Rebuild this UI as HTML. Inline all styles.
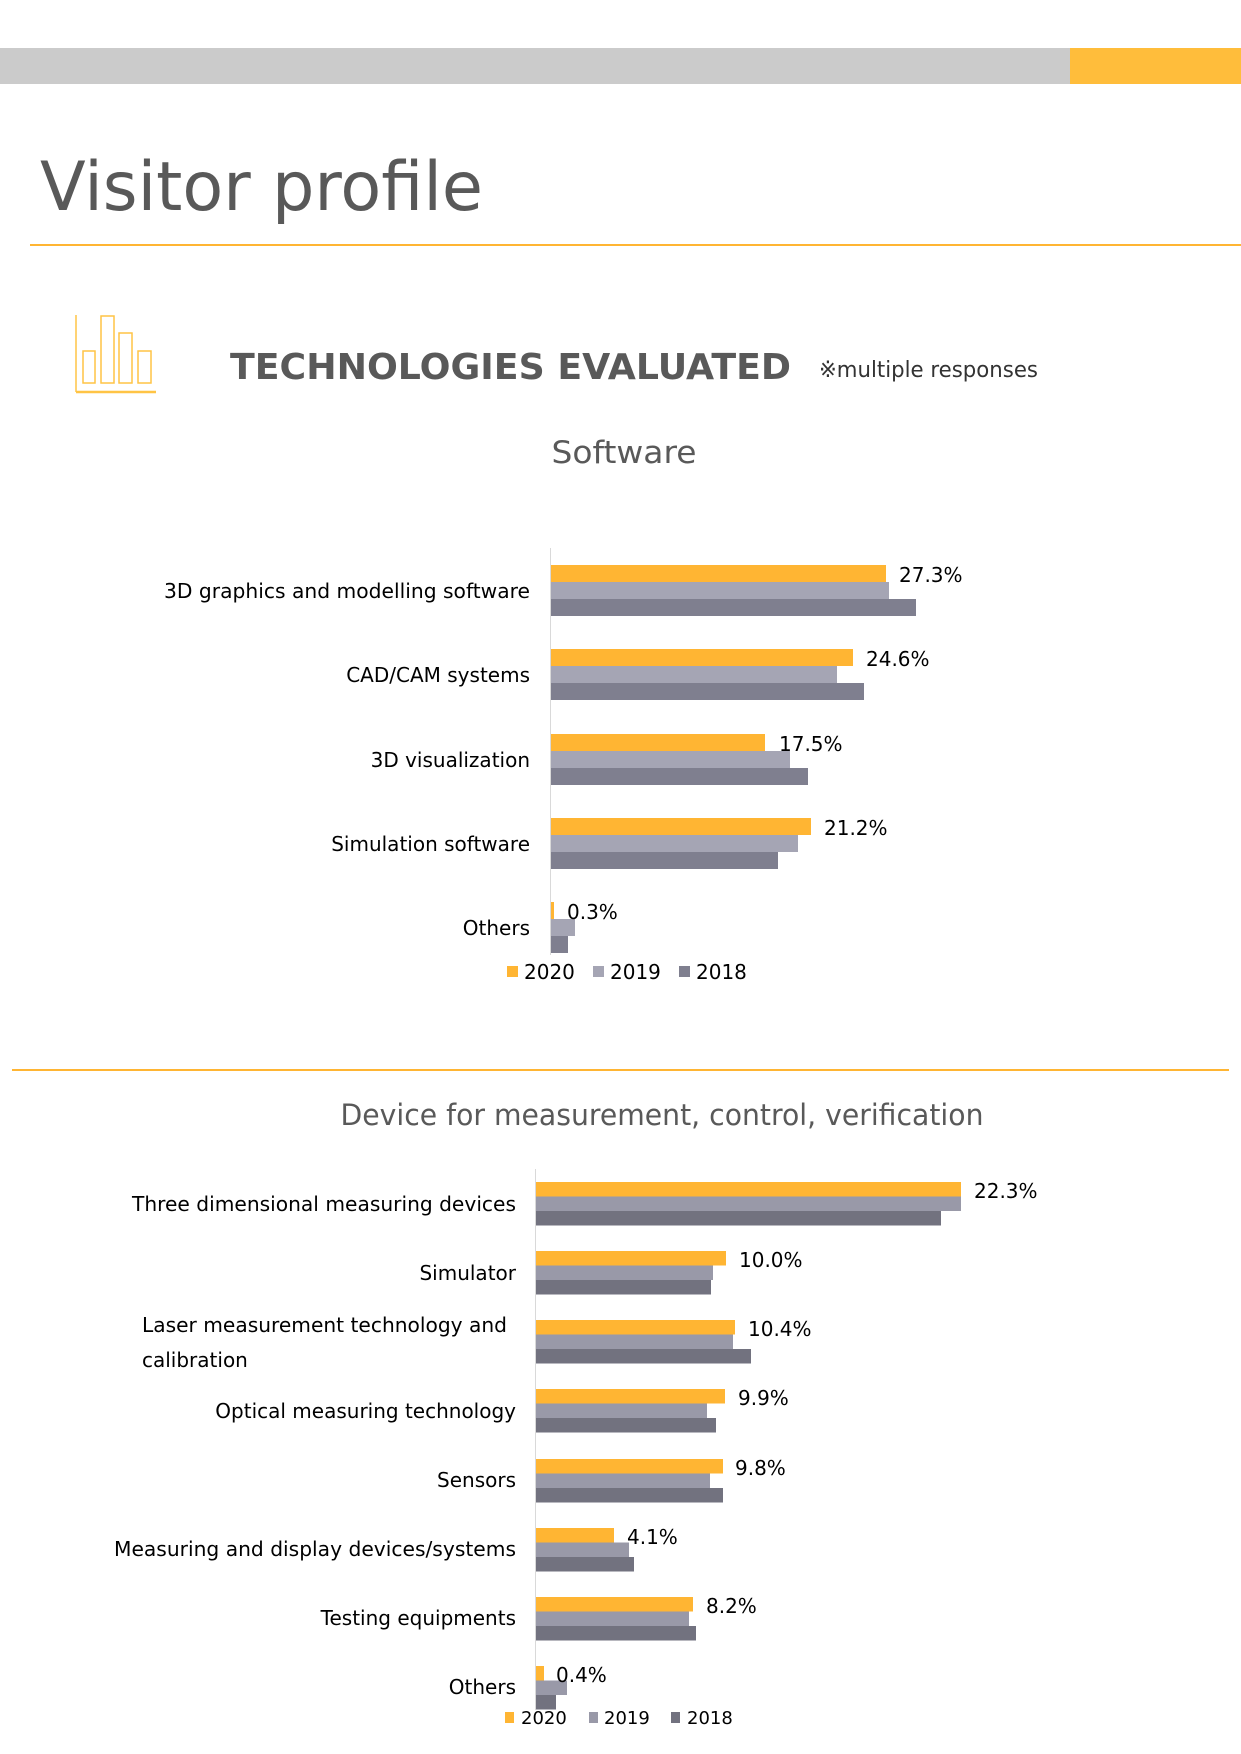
<!DOCTYPE html>
<html><head><meta charset="utf-8"><style>
html,body{margin:0;padding:0;background:#fff;}
svg{display:block;font-family:"DejaVu Sans","Liberation Sans",sans-serif;}
</style></head><body>
<svg width="1241" height="1754" viewBox="0 0 1241 1754" xmlns="http://www.w3.org/2000/svg">
<rect x="0" y="48" width="1070" height="36" fill="#cbcbcb"/>
<rect x="1070" y="48" width="171" height="36" fill="#ffbd3b"/>
<text x="40" y="210" font-size="68" fill="#595959" textLength="443" lengthAdjust="spacingAndGlyphs">Visitor profile</text>
<rect x="30" y="244" width="1211" height="2" fill="#ffb533"/>
<g fill="none" stroke="#ffc445" stroke-width="1.5">
<line x1="76" y1="315" x2="76" y2="392"/>
<line x1="76" y1="392" x2="156" y2="392" stroke-width="2.5"/>
<rect x="83" y="351" width="12" height="32"/>
<rect x="101" y="316" width="13" height="67"/>
<rect x="119" y="333" width="13" height="50"/>
<rect x="138" y="351" width="13" height="32"/>
</g>
<text x="230" y="379" font-size="36" font-weight="bold" fill="#595959" textLength="561" lengthAdjust="spacingAndGlyphs">TECHNOLOGIES EVALUATED</text>
<text x="819" y="377" font-size="22" fill="#333" textLength="219" lengthAdjust="spacingAndGlyphs">※multiple responses</text>
<text x="624" y="463" font-size="31" fill="#595959" text-anchor="middle" textLength="145" lengthAdjust="spacingAndGlyphs">Software</text>

<line x1="550.5" y1="548" x2="550.5" y2="955" stroke="#d9d9d9"/>
<g fill="#ffb533">
<rect x="551" y="565" width="335" height="17"/>
<rect x="551" y="649" width="302" height="17"/>
<rect x="551" y="734" width="214" height="17"/>
<rect x="551" y="818" width="260" height="17"/>
<rect x="551" y="902" width="3" height="17"/>
</g>
<g fill="#a5a5b4">
<rect x="551" y="582" width="338" height="17"/>
<rect x="551" y="666" width="286" height="17"/>
<rect x="551" y="751" width="239" height="17"/>
<rect x="551" y="835" width="247" height="17"/>
<rect x="551" y="919" width="24" height="17"/>
</g>
<g fill="#7f7f8f">
<rect x="551" y="599" width="365" height="17"/>
<rect x="551" y="683" width="313" height="17"/>
<rect x="551" y="768" width="257" height="17"/>
<rect x="551" y="852" width="227" height="17"/>
<rect x="551" y="936" width="17" height="17"/>
</g>
<g font-size="20" fill="#000">
<text x="899" y="582">27.3%</text>
<text x="866" y="666">24.6%</text>
<text x="779" y="751">17.5%</text>
<text x="824" y="835">21.2%</text>
<text x="567" y="919">0.3%</text>
</g>
<g font-size="20" fill="#000" text-anchor="end">
<text x="530" y="598" textLength="366" lengthAdjust="spacingAndGlyphs">3D graphics and modelling software</text>
<text x="530" y="682">CAD/CAM systems</text>
<text x="530" y="767">3D visualization</text>
<text x="530" y="851">Simulation software</text>
<text x="530" y="935">Others</text>
</g>
<g font-size="20" fill="#000">
<rect x="507" y="966" width="11" height="11" fill="#ffb533"/><text x="524" y="979">2020</text>
<rect x="593" y="966" width="11" height="11" fill="#a5a5b4"/><text x="610" y="979">2019</text>
<rect x="679" y="966" width="11" height="11" fill="#7f7f8f"/><text x="696" y="979">2018</text>
</g>

<rect x="12" y="1069" width="1217" height="2" fill="#ffb533"/>
<text x="662" y="1125" font-size="29" fill="#595959" text-anchor="middle" textLength="643" lengthAdjust="spacingAndGlyphs">Device for measurement, control, verification</text>

<line x1="535.5" y1="1169" x2="535.5" y2="1710" stroke="#d9d9d9"/>
<g fill="#ffb533">
<rect x="536" y="1182" width="425" height="14.5"/>
<rect x="536" y="1251" width="190" height="14.5"/>
<rect x="536" y="1320" width="199" height="14.5"/>
<rect x="536" y="1389" width="189" height="14.5"/>
<rect x="536" y="1459" width="187" height="14.5"/>
<rect x="536" y="1528" width="78" height="14.5"/>
<rect x="536" y="1597" width="157" height="14.5"/>
<rect x="536" y="1666" width="8" height="14.5"/>
</g>
<g fill="#9999a8">
<rect x="536" y="1196.5" width="425" height="14.5"/>
<rect x="536" y="1265.5" width="177" height="14.5"/>
<rect x="536" y="1334.5" width="197" height="14.5"/>
<rect x="536" y="1403.5" width="171" height="14.5"/>
<rect x="536" y="1473.5" width="174" height="14.5"/>
<rect x="536" y="1542.5" width="93" height="14.5"/>
<rect x="536" y="1611.5" width="153" height="14.5"/>
<rect x="536" y="1680.5" width="31" height="14.5"/>
</g>
<g fill="#72727f">
<rect x="536" y="1211" width="405" height="14.5"/>
<rect x="536" y="1280" width="175" height="14.5"/>
<rect x="536" y="1349" width="215" height="14.5"/>
<rect x="536" y="1418" width="180" height="14.5"/>
<rect x="536" y="1488" width="187" height="14.5"/>
<rect x="536" y="1557" width="98" height="14.5"/>
<rect x="536" y="1626" width="160" height="14.5"/>
<rect x="536" y="1695" width="20" height="14.5"/>
</g>
<g font-size="20" fill="#000">
<text x="974" y="1198">22.3%</text>
<text x="739" y="1267">10.0%</text>
<text x="748" y="1336">10.4%</text>
<text x="738" y="1405">9.9%</text>
<text x="735" y="1475">9.8%</text>
<text x="627" y="1544">4.1%</text>
<text x="706" y="1613">8.2%</text>
<text x="556" y="1682">0.4%</text>
</g>
<g font-size="20" fill="#000" text-anchor="end">
<text x="516" y="1211" textLength="384" lengthAdjust="spacingAndGlyphs">Three dimensional measuring devices</text>
<text x="516" y="1280">Simulator</text>
<text x="516" y="1418">Optical measuring technology</text>
<text x="516" y="1487">Sensors</text>
<text x="516" y="1556" textLength="402" lengthAdjust="spacingAndGlyphs">Measuring and display devices/systems</text>
<text x="516" y="1625">Testing equipments</text>
<text x="516" y="1694">Others</text>
</g>
<g font-size="20" fill="#000">
<text x="142" y="1332" textLength="365" lengthAdjust="spacingAndGlyphs">Laser measurement technology and</text>
<text x="142" y="1367">calibration</text>
</g>
<g font-size="18" fill="#000">
<rect x="505" y="1712" width="9" height="11" fill="#ffb533"/><text x="521" y="1724">2020</text>
<rect x="589" y="1712" width="9" height="11" fill="#9999a8"/><text x="604" y="1724">2019</text>
<rect x="671" y="1712" width="9" height="11" fill="#72727f"/><text x="687" y="1724">2018</text>
</g>
</svg>
</body></html>
